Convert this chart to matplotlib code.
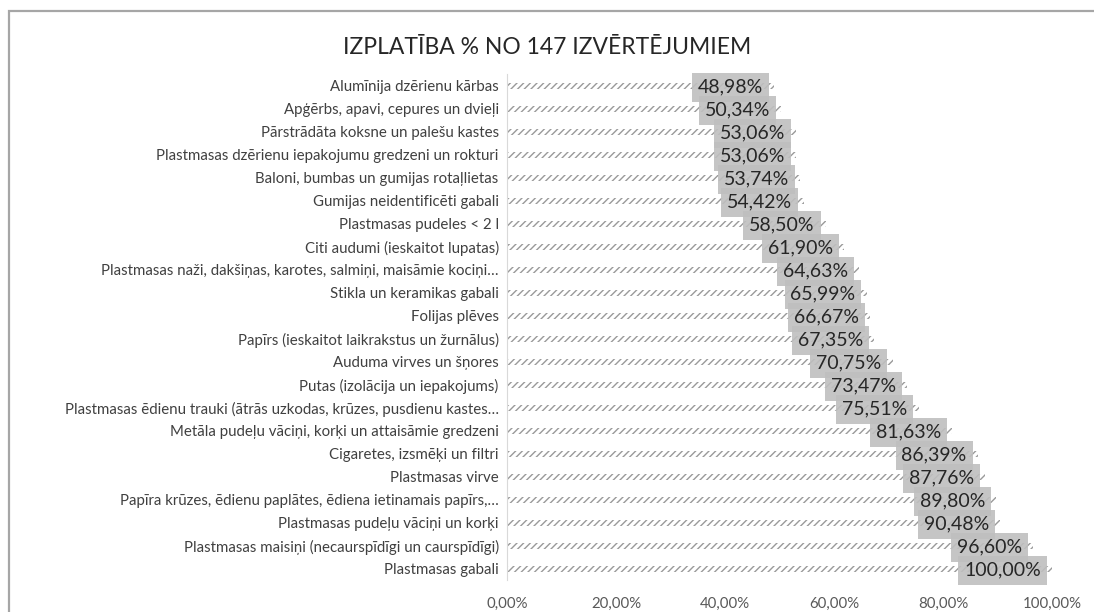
import matplotlib.pyplot as plt
import numpy as np
from matplotlib.patches import Rectangle

plt.rcParams['font.family'] = ['Lato', 'DejaVu Sans']
plt.rcParams['hatch.linewidth'] = 1.0

categories = [
    "Alumīnija dzērienu kārbas",
    "Apģērbs, apavi, cepures un dvieļi",
    "Pārstrādāta koksne un palešu kastes",
    "Plastmasas dzērienu iepakojumu gredzeni un rokturi",
    "Baloni, bumbas un gumijas rotaļlietas",
    "Gumijas neidentificēti gabali",
    "Plastmasas pudeles < 2 l",
    "Citi audumi (ieskaitot lupatas)",
    "Plastmasas naži, dakšiņas, karotes, salmiņi, maisāmie kociņi…",
    "Stikla un keramikas gabali",
    "Folijas plēves",
    "Papīrs (ieskaitot laikrakstus un žurnālus)",
    "Auduma virves un šņores",
    "Putas (izolācija un iepakojums)",
    "Plastmasas ēdienu trauki (ātrās uzkodas, krūzes, pusdienu kastes…",
    "Metāla pudeļu vāciņi, korķi un attaisāmie gredzeni",
    "Cigaretes, izsmēķi un filtri",
    "Plastmasas virve",
    "Papīra krūzes, ēdienu paplātes, ēdiena ietinamais papīrs,…",
    "Plastmasas pudeļu vāciņi un korķi",
    "Plastmasas maisiņi (necaurspīdīgi un caurspīdīgi)",
    "Plastmasas gabali",
]
values = [48.98, 50.34, 53.06, 53.06, 53.74, 54.42, 58.50, 61.90, 64.63, 65.99,
          66.67, 67.35, 70.75, 73.47, 75.51, 81.63, 86.39, 87.76, 89.80, 90.48,
          96.60, 100.00]
x_ticks = [0, 20, 40, 60, 80, 100]

fig = plt.figure(figsize=(10.94, 6.12), dpi=100)
ax = fig.add_axes([0.4634, 0.0515, 0.4982, 0.8268])

y = np.arange(len(categories))
ax.barh(y, values, height=0.26, color='white', edgecolor='#9A9A9A',
        linewidth=0, hatch='/////')

for yi, v in zip(y, values):
    lbl = f"{v:.2f}%".replace('.', ',')
    ax.annotate(lbl, (v, yi), xytext=(-8, -1), textcoords='offset points',
                ha='right', va='center', fontsize=14, color='#262626',
                bbox=dict(boxstyle='square,pad=0.3', facecolor='#BFBFBF',
                          edgecolor='none', alpha=0.9))

ax.set_ylim(len(categories) - 0.5, -0.5)
ax.set_xlim(0, 100)
ax.set_yticks(y)
ax.set_yticklabels(categories, fontsize=10.8, color='#404040')
ax.set_xticks(x_ticks)
ax.set_xticklabels([f"{t:.2f}%".replace('.', ',') for t in x_ticks],
                   fontsize=10.8, color='#595959')
ax.tick_params(axis='both', length=0)
ax.tick_params(axis='x', pad=12)
ax.tick_params(axis='y', pad=6)
for side in ['top', 'right', 'bottom']:
    ax.spines[side].set_visible(False)
ax.spines['left'].set_color('#D9D9D9')

fig.text(0.5, 0.923, "IZPLATĪBA % NO 147 IZVĒRTĒJUMIEM", ha='center',
         va='center', fontsize=16.5, color='#262626')

# chart frame
fig.patches.append(Rectangle((9 / 1094, -0.1), 1.2, 1 - 11 / 612 + 0.1,
                             transform=fig.transFigure, fill=False,
                             edgecolor='#A6A6A6', linewidth=1.6))

fig.savefig('out.png', dpi=100)
